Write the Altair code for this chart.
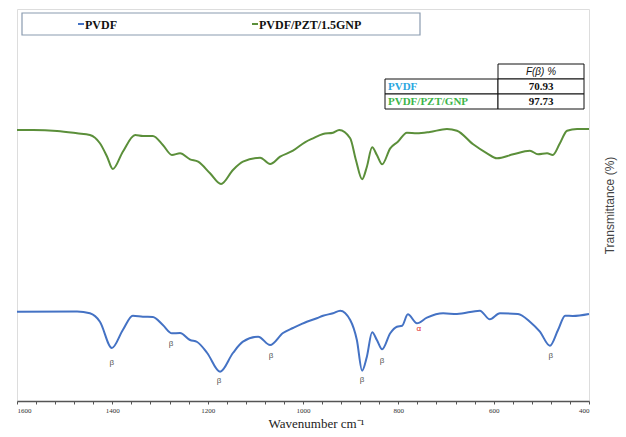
import altair as alt
import pandas as pd

# PVDF (blue) spectrum
wn_pvdf = [1600, 1474, 1447, 1426, 1401, 1378, 1357, 1336, 1315, 1294, 1275, 1258, 1237, 1222,
           1201, 1174, 1147, 1126, 1094, 1069, 1042, 1021, 992, 971, 958, 937, 922, 901, 887,
           876, 866, 855, 845, 834, 817, 803, 792, 780, 761, 740, 706, 677, 629, 608, 587, 549,
           524, 503, 482, 465, 450, 434, 400]
t_pvdf = [89.3, 89.5, 87.7, 79.3, 53, 71, 85.3, 84.3, 84, 76, 67.7, 68, 61, 59,
          48, 29.3, 48, 59.3, 64.3, 56, 68, 73, 79.3, 82.7, 85.3, 87.7, 90.3, 81, 61,
          30.3, 44.3, 68.7, 61, 51.7, 67.7, 74.3, 75.3, 86.7, 77.7, 83.3, 87.7, 87, 90.3, 81.7, 87.7, 87,
          79.3, 69.3, 55.3, 71, 85.3, 85, 87]

# PVDF/PZT/1.5GNP (green) spectrum
wn_comp = [1600, 1566, 1516, 1474, 1447, 1426, 1411, 1399, 1378, 1352, 1336, 1315, 1294, 1275,
           1258, 1237, 1220, 1195, 1172, 1147, 1126, 1090, 1069, 1048, 1021, 996, 979, 958, 937,
           924, 901, 889, 876, 866, 855, 845, 834, 817, 801, 782, 761, 734, 698, 677, 643, 614,
           593, 559, 524, 507, 488, 476, 461, 446, 425, 400]
t_comp = [271, 271, 270, 267.7, 266, 257.7, 244.3, 232, 249.3, 266, 265, 265, 256, 246,
          247.7, 241.7, 239.3, 227.7, 217, 231, 239.3, 243.3, 237, 244.3, 250.3, 258.7, 262.7, 267, 268.3,
          271, 262.7, 241, 221.7, 234.3, 253.7, 246, 236.7, 252.7, 259.3, 268.3, 267.7, 269, 272, 270.3, 256.7, 247.7,
          242.7, 246.7, 250.3, 246.7, 247.7, 246, 257.7, 270.3, 272, 272]

# peak assignments
beta_wn = [1401, 1277, 1176, 1067, 876, 834, 480]
beta_t = [38.3, 57, 20.3, 45, 21, 40.3, 45.3]
alpha_wn = [757]
alpha_t = [71.7]

# x-axis ticks (minor every 40, labelled every 200)
tick_values = list(range(400, 1601, 40))

series_names = ["PVDF", "PVDF/PZT/1.5GNP"]
series_colors = ["#4472C4", "#5B8F3A"]

table_rows = ["PVDF", "PVDF/PZT/GNP"]
table_vals = ["70.93", "97.73"]
table_colors = ["#2AA7DF", "#3DB54A"]
table_header = "F(β) %"

df = pd.concat([
    pd.DataFrame({"wn": wn_pvdf, "t": t_pvdf, "s": series_names[0]}),
    pd.DataFrame({"wn": wn_comp, "t": t_comp, "s": series_names[1]}),
])
beta_df = pd.DataFrame({"wn": beta_wn, "t": beta_t})
alpha_df = pd.DataFrame({"wn": alpha_wn, "t": alpha_t})
one = pd.DataFrame({"a": [0]})

W, H = 572, 392
xs = alt.Scale(domain=[1600, 400], nice=False, zero=False)
ys = alt.Scale(domain=[0, 392], nice=False, zero=False)

x_axis = alt.Axis(title="Wavenumber cm⁻¹", values=tick_values,
                  labelExpr="datum.value % 200 == 0 ? '' + datum.value : ''",
                  labelOverlap=False, labelBound=False, grid=False, tickSize=3,
                  tickColor="#555", domainColor="#555", domainWidth=1.5,
                  labelFont="Liberation Serif", labelFontSize=7, labelColor="#333",
                  labelPadding=2, titleFont="Liberation Serif", titleFontSize=13,
                  titleFontWeight="normal", titleColor="#222", titlePadding=4,
                  titleX=299)
y_axis = alt.Axis(title="Transmittance (%)", orient="right", labels=False, ticks=False,
                  domain=False, grid=False, titleAngle=270, titleFont="Liberation Sans",
                  titleFontSize=12, titleFontWeight="normal", titleColor="#444",
                  titlePadding=27)

lines = alt.Chart(df).mark_line(strokeWidth=2, interpolate="monotone").encode(
    x=alt.X("wn:Q", scale=xs, axis=x_axis),
    y=alt.Y("t:Q", scale=ys, axis=y_axis),
    color=alt.Color("s:N", scale=alt.Scale(domain=series_names, range=series_colors), legend=None),
    detail="s:N",
)

beta_lbl = alt.Chart(beta_df).mark_text(text="β", fontSize=8, font="Liberation Sans",
                                         baseline="middle", color="#555").encode(
    x=alt.X("wn:Q", scale=xs, axis=x_axis), y=alt.Y("t:Q", scale=ys, axis=y_axis))
alpha_lbl = alt.Chart(alpha_df).mark_text(text="α", fontSize=8, font="Liberation Sans",
                                           baseline="middle", color="#E02020").encode(
    x=alt.X("wn:Q", scale=xs, axis=x_axis), y=alt.Y("t:Q", scale=ys, axis=y_axis))

base = alt.Chart(one)

# legend box
leg_box = base.mark_rect(fill="white", stroke="#8A9BB0", strokeWidth=1.2).encode(
    x=alt.value(5), x2=alt.value(403), y=alt.value(4), y2=alt.value(26))
leg_items = []
for name, col, xp in zip(series_names, series_colors, [61, 235]):
    leg_items.append(base.mark_rule(color=col, strokeWidth=2).encode(
        x=alt.value(xp), x2=alt.value(xp + 6), y=alt.value(15)))
    leg_items.append(base.mark_text(text=name, font="Liberation Serif", fontSize=12, fontWeight="bold",
                                    align="left", baseline="middle", color="#111").encode(
        x=alt.value(xp + 7), y=alt.value(15.5)))

# F(beta) table
tx0, tx1, tx2 = 368, 481, 567
ty = [55, 70, 85, 100]
tbl = [
    base.mark_rect(fill="white", stroke="#111", strokeWidth=1).encode(
        x=alt.value(tx1), x2=alt.value(tx2), y=alt.value(ty[0]), y2=alt.value(ty[1])),
    base.mark_rect(fill="white", stroke="#111", strokeWidth=1).encode(
        x=alt.value(tx0), x2=alt.value(tx1), y=alt.value(ty[1]), y2=alt.value(ty[2])),
    base.mark_rect(fill="white", stroke="#111", strokeWidth=1).encode(
        x=alt.value(tx1), x2=alt.value(tx2), y=alt.value(ty[1]), y2=alt.value(ty[2])),
    base.mark_rect(fill="white", stroke="#111", strokeWidth=1).encode(
        x=alt.value(tx0), x2=alt.value(tx1), y=alt.value(ty[2]), y2=alt.value(ty[3])),
    base.mark_rect(fill="white", stroke="#111", strokeWidth=1).encode(
        x=alt.value(tx1), x2=alt.value(tx2), y=alt.value(ty[2]), y2=alt.value(ty[3])),
    base.mark_text(text=table_header, font="Liberation Sans", fontSize=10, fontStyle="italic",
                   align="center", baseline="middle", color="#111").encode(
        x=alt.value((tx1 + tx2) / 2), y=alt.value((ty[0] + ty[1]) / 2 + 0.5)),
]
for i, (rname, rval, rcol) in enumerate(zip(table_rows, table_vals, table_colors)):
    yc = (ty[i + 1] + ty[i + 2]) / 2 + 0.5
    tbl.append(base.mark_text(text=rname, font="Liberation Serif", fontSize=11, fontWeight="bold",
                              align="left", baseline="middle", color=rcol).encode(
        x=alt.value(tx0 + 3), y=alt.value(yc)))
    tbl.append(base.mark_text(text=rval, font="Liberation Serif", fontSize=11, fontWeight="bold",
                              align="center", baseline="middle", color="#111").encode(
        x=alt.value((tx1 + tx2) / 2), y=alt.value(yc)))

chart = alt.layer(lines, beta_lbl, alpha_lbl, leg_box, *leg_items, *tbl).properties(
    width=W, height=H, autosize=alt.AutoSizeParams(type="none"),
    padding={"left": 9, "top": 1, "right": 29, "bottom": 28}
).configure_view(stroke="#777", strokeWidth=1.5).configure(background="white")

chart.save("out.html", embed_options={"renderer": "svg", "actions": False})
